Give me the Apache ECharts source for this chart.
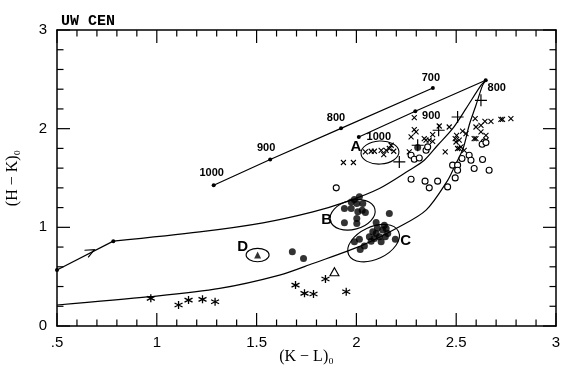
<!DOCTYPE html>
<html><head><meta charset="utf-8">
<script src="https://cdn.jsdelivr.net/npm/echarts@6/dist/echarts.min.js"></script>
<style>html,body{margin:0;padding:0;background:#fff}#c{width:570px;height:371px}</style>
</head><body><div id="c"></div>
<script>
// ---------------- data ----------------
const titleText = 'UW CEN';
const xName = '(K − L)₀';
const yName = '(H − K)₀';
const xTickValues = [0.5, 1, 1.5, 2, 2.5, 3];
const xTickLabels = ['.5', '1', '1.5', '2', '2.5', '3'];
const yTickValues = [0, 1, 2, 3];
const yTickLabels = ['0', '1', '2', '3'];
const xMinorTickValues = [0.6, 0.7, 0.8, 0.9, 1.1, 1.2, 1.3, 1.4, 1.6, 1.7, 1.8, 1.9, 2.1, 2.2, 2.3, 2.4, 2.6, 2.7, 2.8, 2.9];
const yMinorTickValues = [0.2, 0.4, 0.6, 0.8, 1.2, 1.4, 1.6, 1.8, 2.2, 2.4, 2.6, 2.8];

const track1 = [[1.285, 1.427], [1.568, 1.687], [1.923, 2.003], [2.383, 2.412]];
const track1Temps = ['1000', '900', '800', '700'];
const track2 = [[2.012, 1.916], [2.295, 2.176], [2.648, 2.49]];
const track2Temps = ['1000', '900', '800'];

const upperStart = [[0.5, 0.567], [0.782, 0.86]];
const upperCurve = [[0.782, 0.86], [1.215, 0.954], [1.532, 1.046], [1.782, 1.157], [1.948, 1.258],
  [2.115, 1.394], [2.265, 1.579], [2.34, 1.68], [2.407, 1.832], [2.482, 2.0], [2.549, 2.203],
  [2.624, 2.439], [2.648, 2.49]];
const lowerCurve = [[0.5, 0.213], [0.965, 0.297], [1.315, 0.381], [1.615, 0.516], [1.782, 0.634], [2.032, 0.82],
  [2.215, 1.005], [2.349, 1.174], [2.455, 1.468], [2.495, 1.63], [2.535, 1.802], [2.565, 2.035],
  [2.599, 2.237], [2.632, 2.439], [2.648, 2.49]];
const arrowPoint = [[0.667, 0.752]];

const crosses = [[2.29, 2.112], [2.29, 1.991], [2.299, 1.967], [2.274, 1.916], [2.34, 1.9], [2.365, 1.883],
  [2.382, 1.94], [2.415, 2.027], [2.465, 2.017], [2.445, 1.764], [2.502, 1.933], [2.495, 1.9], [2.515, 1.883],
  [2.532, 1.974], [2.549, 1.95], [2.595, 2.102], [2.599, 2.017], [2.624, 2.034], [2.624, 1.967], [2.644, 2.075],
  [2.674, 2.075], [2.724, 2.095], [2.732, 2.095], [2.774, 2.102], [2.649, 1.933], [2.649, 1.883], [2.59, 1.9],
  [2.507, 1.799], [2.524, 1.815], [2.265, 1.764], [2.54, 1.781], [2.499, 1.865], [2.515, 1.8], [2.045, 1.764],
  [2.074, 1.771], [2.09, 1.771], [2.124, 1.781], [2.137, 1.738], [2.149, 1.781], [2.165, 1.799], [2.174, 1.832],
  [2.187, 1.771], [1.935, 1.657], [1.985, 1.657], [2.382, 1.872], [2.349, 1.883], [2.599, 1.9]];
const pluses = [[2.507, 2.118], [2.624, 2.287], [2.412, 1.984], [2.307, 1.832], [2.215, 1.663]];
const openCircles = [[1.899, 1.4], [2.274, 1.731], [2.29, 1.69], [2.315, 1.703], [2.349, 1.781], [2.357, 1.815],
  [2.274, 1.488], [2.344, 1.468], [2.365, 1.4], [2.407, 1.468], [2.457, 1.41], [2.482, 1.63], [2.507, 1.63],
  [2.507, 1.579], [2.495, 1.501], [2.529, 1.697], [2.565, 1.731], [2.574, 1.68], [2.59, 1.596], [2.632, 1.687],
  [2.665, 1.579], [2.64, 1.865], [2.63, 1.842], [2.649, 1.859]];
const filledCircles = [[1.94, 1.191], [1.974, 1.258], [1.99, 1.282], [2.015, 1.309], [2.002, 1.242], [2.032, 1.242],
  [2.045, 1.151], [2.007, 1.157], [2.002, 1.09], [2.002, 1.04], [1.94, 1.046], [2.029, 1.174], [1.974, 1.191],
  [2.165, 1.141], [2.099, 1.05], [1.679, 0.752], [1.735, 0.685],
  [1.99, 0.853], [2.015, 0.878], [2.019, 0.776], [2.04, 0.81], [2.065, 0.904], [2.082, 0.954], [2.099, 0.938],
  [2.074, 0.86], [2.115, 0.904], [2.132, 0.972], [2.149, 0.989], [2.157, 0.938], [2.124, 0.853], [2.145, 0.904],
  [2.195, 0.878], [2.09, 0.888], [2.14, 1.022], [2.105, 0.992], [2.307, 1.81]];
const asterisks = [[0.97, 0.28], [1.109, 0.213], [1.159, 0.263], [1.229, 0.27], [1.292, 0.246],
  [1.695, 0.415], [1.74, 0.331], [1.785, 0.324], [1.845, 0.476], [1.949, 0.347]];
const openTriangles = [[1.89, 0.55]];
const filledTriangles = [[1.505, 0.719]];

const groupNames = ['A', 'B', 'C', 'D'];
const groupCenters = [[2.118, 1.758], [1.981, 1.127], [2.086, 0.84], [1.505, 0.719]];

// ---------------- style ----------------
const INK = '#000';
const MAJOR_LEN = 13, MINOR_LEN = 6.5;
const ellipseStyle = [
  { rx: 19, ry: 11.5, rot: 3, lx: -24, ly: -6 },
  { rx: 23, ry: 14.6, rot: 15, lx: -26, ly: 5 },
  { rx: 27.5, ry: 16.2, rot: 25, lx: 32, ly: -2 },
  { rx: 11.5, ry: 6.7, rot: 0, lx: -15, ly: -8 }
];
const track1Offsets = [[-2, -12.5], [-4, -12], [-5, -10], [-2, -10]];
const track2Offsets = [[20, 0], [16, 5], [11, 8]];

const SYM_X = 'path://M0,0L10,10M10,0L0,10';
const SYM_PLUS = 'path://M5,0L5,10M0,5L10,5';
const SYM_AST = 'path://M5,0L5,10M0.67,2.5L9.33,7.5M0.67,7.5L9.33,2.5';
const SYM_ARROW = 'path://M0,0L10,5L0,10';
const SYM_TRI = 'path://M5,0L10,9L0,9Z';

function fmtTick(values, labels) {
  return function (v) {
    const i = values.findIndex(t => Math.abs(t - v) < 1e-9);
    return i >= 0 ? labels[i] : '';
  };
}

function trackSeries(pts, temps, offs) {
  return {
    type: 'line', data: pts.map((p, i) => ({
      value: p,
      label: { show: true, formatter: temps[i], position: 'inside', offset: offs[i] }
    })),
    symbol: 'circle', symbolSize: 4, showSymbol: true,
    itemStyle: { color: INK }, lineStyle: { color: INK, width: 1.2 },
    label: { color: INK, fontFamily: 'Liberation Sans', fontWeight: 'bold', fontSize: 11 },
    animation: false, silent: true, z: 3
  };
}

function strokeScatter(data, symbol, size, width, fill) {
  return {
    type: 'scatter', data: data, symbol: symbol, symbolSize: size,
    itemStyle: { color: fill || 'rgba(0,0,0,0)', borderColor: INK, borderWidth: width, opacity: 1 },
    animation: false, silent: true, z: 4
  };
}

function makeAxis(extra) {
  return Object.assign({
    type: 'value', splitLine: { show: false }, minorSplitLine: { show: false },
    axisLine: { show: true, onZero: false, lineStyle: { color: INK, width: 1.5 } },
    axisTick: { show: false }, minorTick: { show: false }
  }, extra);
}

// tick marks drawn on all four frame sides from the axis scales
function tickSeries(values, isX, len) {
  return {
    type: 'custom', data: values.map(v => [v]), animation: false, silent: true, z: 6, clip: false,
    renderItem: function (params, api) {
      const v = api.value(0);
      const lines = [];
      if (isX) {
        const b = api.coord([v, 0]), t = api.coord([v, 3]);
        lines.push({ type: 'line', shape: { x1: b[0], y1: b[1], x2: b[0], y2: b[1] - len }, style: { stroke: INK, lineWidth: 1.2 } });
        lines.push({ type: 'line', shape: { x1: t[0], y1: t[1], x2: t[0], y2: t[1] + len }, style: { stroke: INK, lineWidth: 1.2 } });
      } else {
        const l = api.coord([0.5, v]), r = api.coord([3, v]);
        lines.push({ type: 'line', shape: { x1: l[0], y1: l[1], x2: l[0] + len, y2: l[1] }, style: { stroke: INK, lineWidth: 1.2 } });
        lines.push({ type: 'line', shape: { x1: r[0], y1: r[1], x2: r[0] - len, y2: r[1] }, style: { stroke: INK, lineWidth: 1.2 } });
      }
      return { type: 'group', children: lines };
    }
  };
}

const chart = echarts.init(document.getElementById('c'));
chart.setOption({
  backgroundColor: '#fff',
  animation: false,
  title: {
    text: titleText, left: 56, top: 9,
    textStyle: { fontFamily: 'Liberation Mono', fontWeight: 'bold', fontSize: 15, color: INK }
  },
  grid: { left: 57, right: 14, top: 30, bottom: 45, containLabel: false, outerBoundsMode: 'none' },
  xAxis: [
    makeAxis({
      min: 0.5, max: 3, interval: 0.5, position: 'bottom',
      name: xName, nameLocation: 'middle', nameGap: 23, nameMoveOverlap: false,
      nameTextStyle: { fontFamily: 'Liberation Serif', fontSize: 16, color: INK },
      axisLabel: { margin: 9, color: INK, fontFamily: 'Liberation Sans', fontSize: 15, formatter: fmtTick(xTickValues, xTickLabels) }
    }),
    makeAxis({ min: 0.5, max: 3, interval: 0.5, position: 'top', axisLabel: { show: false } })
  ],
  yAxis: [
    makeAxis({
      min: 0, max: 3, interval: 1, position: 'left',
      name: yName, nameLocation: 'middle', nameGap: 36, nameRotate: 90, nameMoveOverlap: false,
      nameTextStyle: { fontFamily: 'Liberation Serif', fontSize: 16, color: INK },
      axisLabel: { margin: 10, color: INK, fontFamily: 'Liberation Sans', fontSize: 15, formatter: fmtTick(yTickValues, yTickLabels) }
    }),
    makeAxis({ min: 0, max: 3, interval: 1, position: 'right', axisLabel: { show: false } })
  ],
  series: [
    tickSeries(xTickValues, true, MAJOR_LEN),
    tickSeries(xMinorTickValues, true, MINOR_LEN),
    tickSeries(yTickValues, false, MAJOR_LEN),
    tickSeries(yMinorTickValues, false, MINOR_LEN),
    trackSeries(track1, track1Temps, track1Offsets),
    trackSeries(track2, track2Temps, track2Offsets),
    {
      type: 'line', data: upperStart, symbol: 'circle', symbolSize: 4, showSymbol: true,
      itemStyle: { color: INK }, lineStyle: { color: INK, width: 1.2 }, animation: false, silent: true
    },
    {
      type: 'line', data: upperCurve, smooth: 0.3, showSymbol: false,
      lineStyle: { color: INK, width: 1.2 }, animation: false, silent: true
    },
    {
      type: 'line', data: lowerCurve, smooth: 0.3, showSymbol: false,
      lineStyle: { color: INK, width: 1.2 }, animation: false, silent: true
    },
    Object.assign(strokeScatter(arrowPoint, SYM_ARROW, [9, 8], 1.2), { symbolRotate: 27 }),
    strokeScatter(crosses, SYM_X, 5, 1.1),
    strokeScatter(pluses, SYM_PLUS, 12, 1.2),
    strokeScatter(asterisks, SYM_AST, 8, 1.3),
    strokeScatter(openCircles, 'circle', 6, 1.1, '#fff'),
    {
      type: 'scatter', data: filledCircles, symbol: 'circle', symbolSize: 7,
      itemStyle: { color: INK }, animation: false, silent: true
    },
    strokeScatter(openTriangles, SYM_TRI, [9, 8], 1.1, '#fff'),
    {
      type: 'scatter', data: filledTriangles, symbol: 'triangle', symbolSize: 7,
      itemStyle: { color: INK }, animation: false, silent: true
    },
    {
      type: 'custom', data: groupCenters, animation: false, silent: true, z: 5,
      renderItem: function (params, api) {
        const i = params.dataIndex;
        const c = api.coord([api.value(0), api.value(1)]);
        const s = ellipseStyle[i];
        return {
          type: 'group', children: [
            {
              type: 'ellipse', x: c[0], y: c[1], rotation: s.rot * Math.PI / 180,
              shape: { cx: 0, cy: 0, rx: s.rx, ry: s.ry },
              style: { fill: 'none', stroke: INK, lineWidth: 1.1 }
            },
            {
              type: 'text', x: c[0] + s.lx, y: c[1] + s.ly,
              style: {
                text: groupNames[i], fill: INK, fontFamily: 'Liberation Sans', fontWeight: 'bold',
                fontSize: 15, align: 'center', verticalAlign: 'middle'
              }
            }
          ]
        };
      }
    }
  ]
});
</script>
</body></html>
